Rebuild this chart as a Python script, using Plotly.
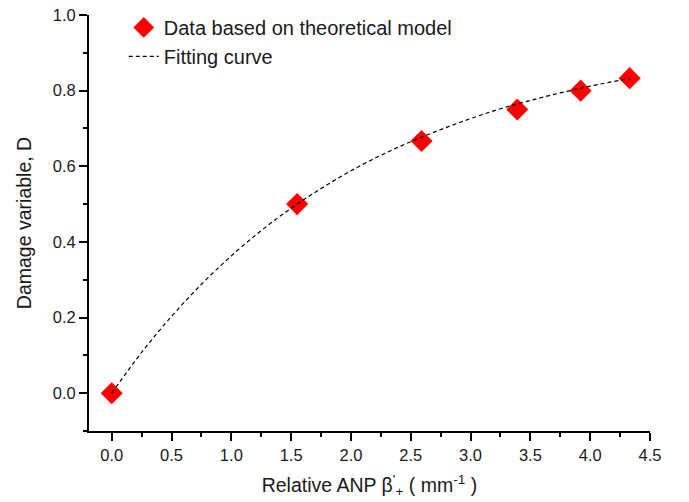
import plotly.graph_objects as go

# data points (theoretical model)
beta_pts = [0.0, 1.55, 2.59, 3.39, 3.92, 4.33]
damage_pts = [0.0, 0.5, 0.667, 0.75, 0.8, 0.833]

# fitting curve
beta_fit = [0.0, 0.25, 0.5, 0.75, 1.0, 1.25, 1.5, 1.75, 2.0, 2.25, 2.5, 2.75,
            3.0, 3.25, 3.5, 3.75, 4.0, 4.33]
damage_fit = [0.0, 0.108, 0.203, 0.288, 0.363, 0.430, 0.489, 0.541, 0.588, 0.629,
              0.665, 0.697, 0.726, 0.752, 0.774, 0.794, 0.812, 0.832]

x_ticks = [0.0, 0.5, 1.0, 1.5, 2.0, 2.5, 3.0, 3.5, 4.0, 4.5]
y_ticks = [0.0, 0.2, 0.4, 0.6, 0.8, 1.0]

font_family = "Liberation Sans, Arial, sans-serif"

fig = go.Figure()
fig.add_trace(go.Scatter(
    x=beta_pts, y=damage_pts, mode="markers",
    name="Data based on theoretical model",
    marker=dict(symbol="diamond", size=17, color="#ff0000", line=dict(width=0)),
))
fig.add_trace(go.Scatter(
    x=beta_fit, y=damage_fit, mode="lines", name="Fitting curve",
    line=dict(color="black", width=1.2, dash="4px,3px", shape="spline"),
))

axis_common = dict(
    showline=True, linecolor="black", linewidth=1.8, mirror=False,
    ticks="outside", ticklen=8, tickwidth=1.5, tickcolor="black",
    showgrid=False, zeroline=False, automargin=False,
    tickfont=dict(family=font_family, size=16.5, color="#1a1a1a"),
)

fig.update_layout(
    width=689, height=502,
    margin=dict(l=89, r=39, t=15, b=71, autoexpand=False),
    paper_bgcolor="white", plot_bgcolor="white",
    font=dict(family=font_family, color="#1a1a1a"),
    showlegend=True,
    legend=dict(
        x=0.062, y=1.017, xanchor="left", yanchor="top",
        bgcolor="rgba(0,0,0,0)", font=dict(family=font_family, size=20, color="#1a1a1a"),
        tracegroupgap=0, itemwidth=30,
    ),
    xaxis=dict(
        range=[-0.19, 4.5], tickvals=x_ticks,
        ticktext=[f"{v:.1f}" for v in x_ticks],
        minor=dict(ticks="outside", ticklen=4, tickwidth=1.5, tickcolor="black", dtick=0.25, tick0=0),
        title=dict(text="Relative ANP β<sup>'</sup><sub>+</sub> ( mm<sup>-1</sup> )",
                   font=dict(family=font_family, size=19.5, color="#1a1a1a"), standoff=16),
        **axis_common,
    ),
    yaxis=dict(
        range=[-0.1, 1.0], tickvals=y_ticks,
        ticktext=[f"{v:.1f}" for v in y_ticks],
        minor=dict(ticks="outside", ticklen=4, tickwidth=1.5, tickcolor="black", dtick=0.1, tick0=0),
        title=dict(text="Damage variable, D",
                   font=dict(family=font_family, size=19.5, color="#1a1a1a"), standoff=16),
        **axis_common,
    ),
)

fig.write_html(
    "out.html",
    config={"displayModeBar": False},
    post_script="document.body.style.margin='0px';document.body.style.overflow='hidden';",
)
